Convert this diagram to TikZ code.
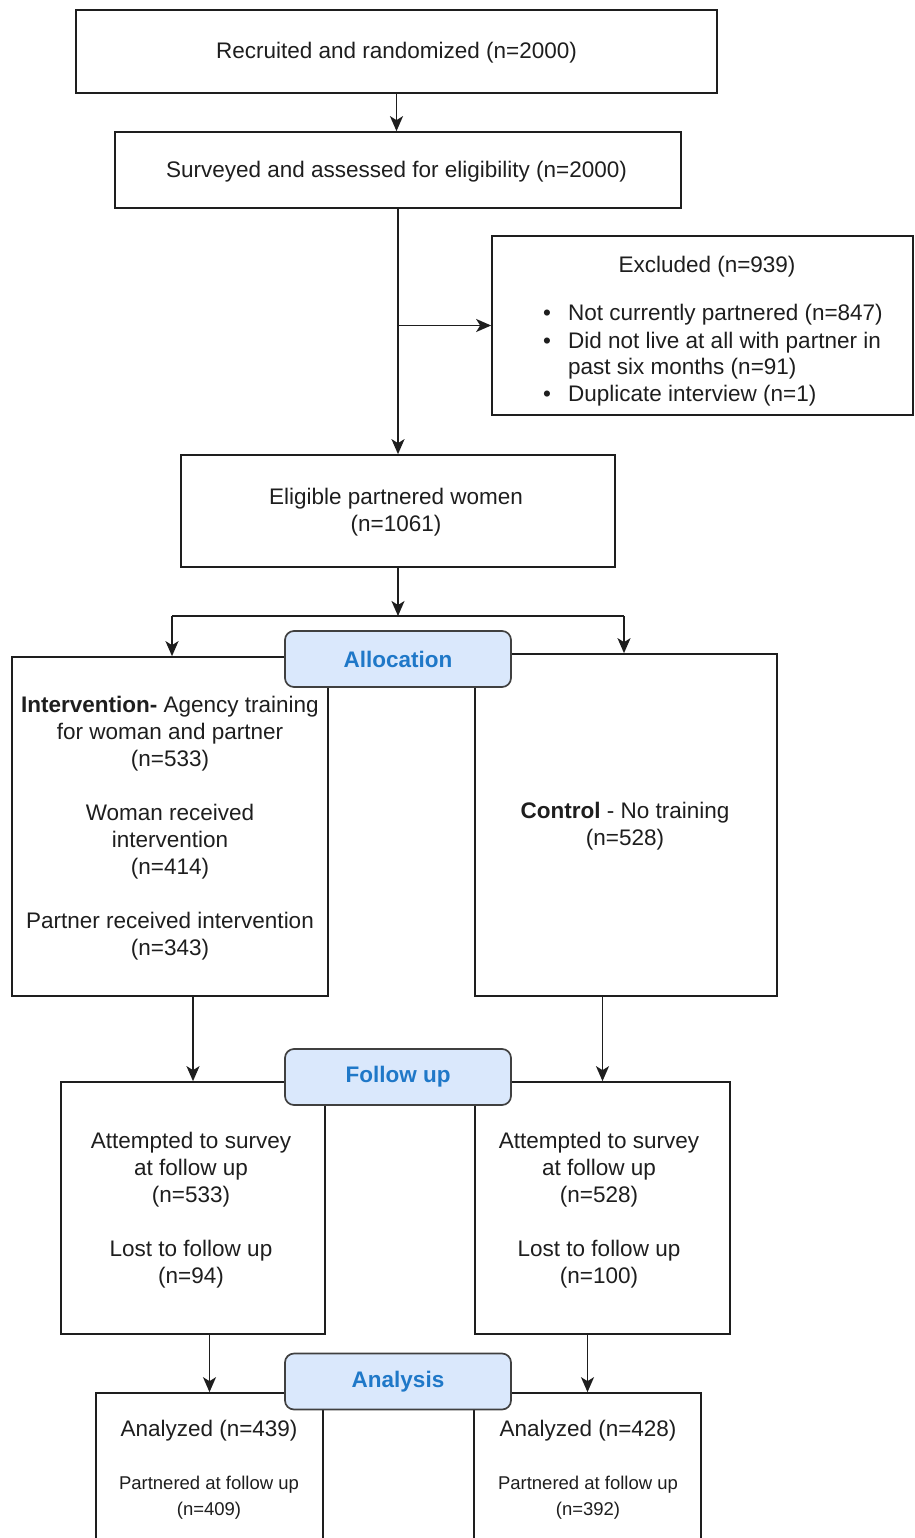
\documentclass[tikz,border=0pt]{standalone}
\usepackage{fontspec}
\setmainfont{Liberation Sans}
\usetikzlibrary{arrows.meta}
\definecolor{lblfill}{HTML}{DAE8FC}
\definecolor{lbltext}{HTML}{1F78C8}
\definecolor{ink}{HTML}{1E1E1E}
\begin{document}
\begin{tikzpicture}[x=1pt,y=-1pt,
  box/.style={draw=ink,line width=1.7pt,rectangle,inner sep=0pt},
  txt/.style={font=\fontsize{22.5}{27}\selectfont,text=ink,align=center,inner sep=0pt,yshift=-2.5pt},
  txtl/.style={font=\fontsize{22.5}{27}\selectfont,text=ink,inner sep=0pt,anchor=west,text height=16.5pt,text depth=4.5pt,yshift=-2pt},
  small/.style={font=\fontsize{18.5}{26}\selectfont,text=ink,align=center,inner sep=0pt,yshift=-2pt},
  lbl/.style={draw=ink!85,line width=1.7pt,fill=lblfill,rounded corners=9pt,minimum width=226pt,minimum height=56pt,font=\bfseries\fontsize{22.5}{27}\selectfont,text=lbltext,inner sep=0pt},
  arr/.style={draw=ink,line width=1.7pt,-{Stealth[length=15pt,width=13pt,inset=4pt]}},
  ln/.style={draw=ink,line width=1.7pt}
]
\useasboundingbox (0,0) rectangle (914,1538);
\fill[white] (0,0) rectangle (914,1538);
\clip (0,0) rectangle (914,1538);

% boxes
\node[box,minimum width=641pt,minimum height=83pt] (rec) at (396.5,51.5) {};
\node[box,minimum width=566pt,minimum height=76pt] (sur) at (398,170) {};
\node[box,minimum width=421pt,minimum height=179pt] (exc) at (702.5,325.5) {};
\node[box,minimum width=434pt,minimum height=112pt] (eli) at (398,511) {};
\node[box,minimum width=316pt,minimum height=339pt] (int) at (170,826.5) {};
\node[box,minimum width=302pt,minimum height=342pt] (con) at (626,825) {};
\node[box,minimum width=264pt,minimum height=252pt] (fl) at (193,1208) {};
\node[box,minimum width=255pt,minimum height=252pt] (fr) at (602.5,1208) {};
\node[box,minimum width=227pt,minimum height=167pt] (al) at (209.5,1476.5) {};
\node[box,minimum width=227pt,minimum height=167pt] (ar) at (587.5,1476.5) {};

% connectors
\draw[arr] (rec.south) -- (rec.south |- sur.north);
\draw[arr] (sur.south) -- (sur.south |- eli.north);
\coordinate (br) at (sur.south |- exc.west);
\draw[arr] (br) -- (exc.west);
\coordinate (sp) at (398,616);
\coordinate (spl) at (172,616);
\coordinate (spr) at (624,616);
\draw[arr] (eli.south) -- (sp);
\draw[ln] (spl) -- (spr);
\draw[arr] (spl) -- (spl |- int.north);
\draw[arr] (spr) -- (spr |- con.north);
\draw[arr] (fl.north |- int.south) -- (fl.north);
\draw[arr] (fr.north |- con.south) -- (fr.north);
\draw[arr] (al.north |- fl.south) -- (al.north);
\draw[arr] (ar.north |- fr.south) -- (ar.north);

% labels
\node[lbl] (lalloc) at (398,659) {Allocation};
\node[lbl] (lfollow) at (398,1077) {Follow up};
\node[lbl] (lanal) at (398,1381.5) {Analysis};

% texts
\node[txt] (t1) at (396.5,50) {Recruited and randomized (n=2000)};
\node[txt] (t2) at (396.5,169) {Surveyed and assessed for eligibility (n=2000)};
\node[txt] (t3) at (707,264) {Excluded (n=939)};
\node[txtl,anchor=center] (d1) at (547,312) {\textbullet};
\node[txtl,anchor=center] (d2) at (547,340) {\textbullet};
\node[txtl,anchor=center] (d3) at (547,393) {\textbullet};
\node[txtl] (e1) at (568,312) {Not currently partnered (n=847)};
\node[txtl] (e2) at (568,340) {Did not live at all with partner in};
\node[txtl] (e3) at (568,366) {past six months (n=91)};
\node[txtl] (e4) at (568,393) {Duplicate interview (n=1)};
\node[txt] (t4) at (396,509.5) {Eligible partnered women\\(n=1061)};
\node[txt] (t5) at (170,826) {\textbf{Intervention-} Agency training\\for woman and partner\\(n=533)\\[27pt]Woman received\\intervention\\(n=414)\\[27pt]Partner received intervention\\(n=343)};
\node[txt] (t6) at (625,824) {\textbf{Control} - No training\\(n=528)};
\node[txt] (t7) at (191,1207.5) {Attempted to survey\\at follow up\\(n=533)\\[27pt]Lost to follow up\\(n=94)};
\node[txt] (t8) at (599,1207.5) {Attempted to survey\\at follow up\\(n=528)\\[27pt]Lost to follow up\\(n=100)};
\node[txt] (t9) at (209,1428) {Analyzed (n=439)};
\node[small] (t10) at (209,1496) {Partnered at follow up\\(n=409)};
\node[txt] (t11) at (588,1428) {Analyzed (n=428)};
\node[small] (t12) at (588,1496) {Partnered at follow up\\(n=392)};
\end{tikzpicture}
\end{document}
